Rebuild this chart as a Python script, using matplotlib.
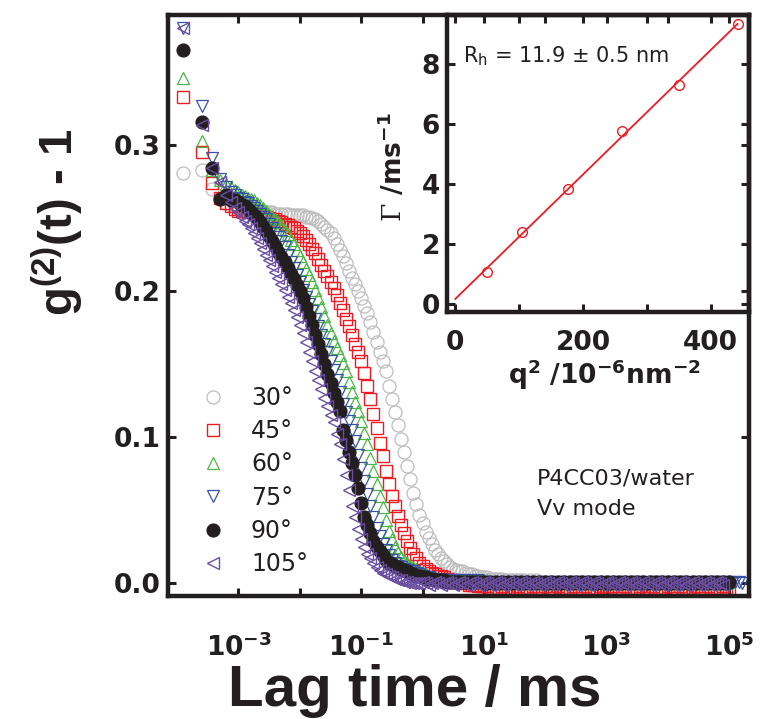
import matplotlib
matplotlib.use("Agg")
import matplotlib.pyplot as plt
import numpy as np

W, H = 761, 719
DPI = 100

INK = "#231f20"
GREY = "#bdbdbd"
RED = "#ed1c24"
GREEN = "#4cb748"
BLUE = "#3953a4"
PURPLE = "#6a4ea1"

plt.rcParams["font.family"] = "DejaVu Sans"
plt.rcParams["mathtext.fontset"] = "dejavuserif"
plt.rcParams["mathtext.default"] = "regular"

# big axis titles use a narrower face than the tick labels
BIG_FONT = ["Liberation Sans", "DejaVu Sans"]

# --- correlator lag times (ms) ---
LAG_MS = np.array([
    1.25e-4, 2.50e-4, 3.75e-4, 5.00e-4, 6.25e-4, 7.50e-4, 8.75e-4,
    1.000e-3, 1.122e-3, 1.259e-3, 1.413e-3, 1.585e-3, 1.778e-3, 1.995e-3, 2.239e-3, 2.512e-3, 2.818e-3,
    3.162e-3, 3.548e-3, 3.981e-3, 4.467e-3, 5.012e-3, 5.623e-3, 6.310e-3, 7.079e-3, 7.943e-3, 8.913e-3,
    1.000e-2, 1.122e-2, 1.259e-2, 1.413e-2, 1.585e-2, 1.778e-2, 1.995e-2, 2.239e-2, 2.512e-2, 2.818e-2,
    3.162e-2, 3.548e-2, 3.981e-2, 4.467e-2, 5.012e-2, 5.623e-2, 6.310e-2, 7.079e-2, 7.943e-2, 8.913e-2,
    1.000e-1, 1.122e-1, 1.259e-1, 1.413e-1, 1.585e-1, 1.778e-1, 1.995e-1, 2.239e-1, 2.512e-1, 2.818e-1,
    3.162e-1, 3.548e-1, 3.981e-1, 4.467e-1, 5.012e-1, 5.623e-1, 6.310e-1, 7.079e-1, 7.943e-1, 8.913e-1,
    1.000e0, 1.122e0, 1.259e0, 1.413e0, 1.585e0, 1.778e0, 1.995e0, 2.239e0, 2.512e0, 2.818e0,
    3.162e0, 3.548e0, 3.981e0, 4.467e0, 5.012e0, 5.623e0, 6.310e0, 7.079e0, 7.943e0, 8.913e0,
    1.000e1, 1.122e1, 1.259e1, 1.413e1, 1.585e1, 1.778e1, 1.995e1, 2.239e1, 2.512e1, 2.818e1,
    3.162e1, 3.548e1, 3.981e1, 4.467e1, 5.012e1, 5.623e1, 6.310e1, 7.079e1, 7.943e1, 8.913e1,
    1.000e2, 1.122e2, 1.259e2, 1.413e2, 1.585e2, 1.778e2, 1.995e2, 2.239e2, 2.512e2, 2.818e2,
    3.162e2, 3.548e2, 3.981e2, 4.467e2, 5.012e2, 5.623e2, 6.310e2, 7.079e2, 7.943e2, 8.913e2,
    1.000e3, 1.122e3, 1.259e3, 1.413e3, 1.585e3, 1.778e3, 1.995e3, 2.239e3, 2.512e3, 2.818e3,
    3.162e3, 3.548e3, 3.981e3, 4.467e3, 5.012e3, 5.623e3, 6.310e3, 7.079e3, 7.943e3, 8.913e3,
    1.000e4, 1.122e4, 1.259e4, 1.413e4, 1.585e4, 1.778e4, 1.995e4, 2.239e4, 2.512e4, 2.818e4,
    3.162e4, 3.548e4, 3.981e4, 4.467e4, 5.012e4, 5.623e4, 6.310e4, 7.079e4, 7.943e4, 8.913e4,
    1.000e5, 1.122e5, 1.259e5, 1.413e5, 1.585e5,
])

# --- g2(t) - 1 for each scattering angle ---
G2_30 = [
    0.281, 0.283, 0.270, 0.263, 0.260, 0.259, 0.258,
    0.257, 0.257, 0.256, 0.256, 0.256, 0.255, 0.255, 0.255, 0.254, 0.254,
    0.254, 0.254, 0.253, 0.253, 0.253, 0.253, 0.253, 0.252, 0.252, 0.252,
    0.252, 0.252, 0.251, 0.251, 0.250, 0.249, 0.248, 0.246, 0.244, 0.242,
    0.240, 0.236, 0.232, 0.228, 0.224, 0.219, 0.214, 0.209, 0.205, 0.200,
    0.195, 0.190, 0.185, 0.179, 0.172, 0.165, 0.158, 0.152, 0.145, 0.135,
    0.126, 0.117, 0.108, 0.099, 0.090, 0.080, 0.071, 0.062, 0.054, 0.047,
    0.041, 0.035, 0.031, 0.027, 0.023, 0.020, 0.017, 0.015, 0.013, 0.011,
    0.010, 0.009, 0.008, 0.008, 0.007, 0.006, 0.006, 0.005, 0.005, 0.004,
    0.004, 0.004, 0.003, 0.003, 0.003, 0.003, 0.003, 0.002, 0.002, 0.002,
    0.002, 0.002, 0.002, 0.002, 0.001, 0.002, 0.001, 0.002, 0.001, 0.001,
    0.001, 0.000, 0.001, 0.001, 0.000, 0.001, 0.001, 0.000, 0.001, 0.001,
    0.000, 0.001, 0.001, 0.000, 0.001, 0.001, 0.000, 0.001, 0.001, 0.000,
    0.001, 0.000, 0.001, 0.001, 0.000, 0.001, 0.001, 0.000, 0.001, 0.001,
    0.000, 0.001, 0.001, 0.000, 0.001, 0.001, 0.000, 0.001, 0.001, 0.000,
    0.001, 0.000, 0.001, 0.001, 0.000, 0.001, 0.001, 0.000, 0.001, 0.001,
    0.000, 0.001, 0.001, 0.000, 0.001, 0.001, 0.000, 0.001, 0.001, 0.000,
    0.001,
]
G2_45 = [
    0.333, 0.295, 0.274, 0.264, 0.260, 0.258, 0.256,
    0.255, 0.255, 0.255, 0.254, 0.254, 0.253, 0.253, 0.252, 0.252, 0.251,
    0.250, 0.249, 0.249, 0.248, 0.247, 0.246, 0.245, 0.244, 0.243, 0.241,
    0.240, 0.238, 0.235, 0.232, 0.229, 0.226, 0.222, 0.218, 0.214, 0.210,
    0.206, 0.202, 0.197, 0.192, 0.187, 0.181, 0.176, 0.170, 0.164, 0.158,
    0.152, 0.144, 0.135, 0.126, 0.116, 0.106, 0.096, 0.087, 0.077, 0.068,
    0.060, 0.053, 0.046, 0.040, 0.034, 0.029, 0.024, 0.020, 0.017, 0.014,
    0.012, 0.010, 0.008, 0.007, 0.006, 0.005, 0.005, 0.004, 0.003, 0.002,
    0.002, 0.001, 0.001, 0.000, 0.000, -0.001, -0.001, -0.001, -0.002, -0.002,
    -0.002, -0.002, -0.003, -0.003, -0.003, -0.003, -0.002, -0.003, -0.003, -0.003,
    -0.003, -0.002, -0.003, -0.003, -0.003, -0.003, -0.002, -0.003, -0.003, -0.003,
    -0.002, -0.003, -0.003, -0.003, -0.002, -0.003, -0.003, -0.003, -0.003, -0.002,
    -0.003, -0.003, -0.003, -0.002, -0.003, -0.003, -0.003, -0.003, -0.002, -0.003,
    -0.003, -0.003, -0.002, -0.003, -0.003, -0.003, -0.002, -0.003, -0.003, -0.003,
    -0.003, -0.002, -0.003, -0.003, -0.003, -0.002, -0.003, -0.003, -0.003, -0.003,
    -0.002, -0.003, -0.003, -0.003, -0.002, -0.003, -0.003, -0.003, -0.003, -0.002,
    -0.003, -0.003, -0.003, -0.002, -0.003, -0.003, -0.003, -0.003, -0.002, -0.003,
    -0.003,
]
G2_60 = [
    0.346, 0.303, 0.283, 0.276, 0.273, 0.271, 0.269,
    0.268, 0.266, 0.265, 0.264, 0.263, 0.262, 0.260, 0.259, 0.257, 0.255,
    0.253, 0.251, 0.249, 0.247, 0.245, 0.242, 0.239, 0.235, 0.232, 0.228,
    0.224, 0.220, 0.215, 0.211, 0.206, 0.201, 0.195, 0.189, 0.183, 0.177,
    0.171, 0.166, 0.161, 0.156, 0.151, 0.145, 0.138, 0.131, 0.124, 0.118,
    0.111, 0.103, 0.095, 0.086, 0.077, 0.068, 0.060, 0.052, 0.043, 0.036,
    0.030, 0.025, 0.021, 0.018, 0.016, 0.014, 0.012, 0.011, 0.010, 0.008,
    0.007, 0.006, 0.005, 0.004, 0.004, 0.003, 0.003, 0.002, 0.002, 0.002,
    0.002, 0.002, 0.002, 0.002, 0.001, 0.002, 0.001, 0.002, 0.001, 0.002,
    0.001, 0.002, 0.001, 0.001, 0.001, 0.000, 0.001, 0.000, 0.001, 0.000,
    0.001, 0.000, 0.001, 0.000, 0.001, 0.000, 0.001, 0.000, 0.001, 0.000,
    0.001, 0.000, 0.001, 0.000, 0.001, 0.000, 0.001, 0.000, 0.001, 0.000,
    0.001, 0.000, 0.001, 0.000, 0.001, 0.000, 0.001, 0.000, 0.001, 0.000,
    0.001, 0.000, 0.001, 0.000, 0.001, 0.000, 0.001, 0.000, 0.001, 0.000,
    0.001, 0.000, 0.001, 0.000, 0.001, 0.000, 0.001, 0.000, 0.001, 0.000,
    0.001, 0.000, 0.001, 0.000, 0.001, 0.000, 0.001, 0.000, 0.001, 0.000,
    0.001, 0.000, 0.001, 0.000, 0.001, 0.000, 0.001, 0.000, 0.001, 0.000,
    0.001,
]
G2_75 = [
    0.380, 0.327, 0.291, 0.277, 0.271, 0.268, 0.266,
    0.264, 0.263, 0.261, 0.260, 0.258, 0.257, 0.255, 0.253, 0.251, 0.249,
    0.246, 0.243, 0.240, 0.237, 0.234, 0.230, 0.225, 0.220, 0.216, 0.211,
    0.206, 0.201, 0.196, 0.191, 0.186, 0.181, 0.176, 0.170, 0.164, 0.158,
    0.152, 0.146, 0.139, 0.131, 0.123, 0.117, 0.111, 0.105, 0.097, 0.088,
    0.079, 0.070, 0.061, 0.053, 0.045, 0.038, 0.032, 0.027, 0.023, 0.019,
    0.016, 0.014, 0.012, 0.011, 0.010, 0.009, 0.008, 0.008, 0.007, 0.006,
    0.005, 0.004, 0.004, 0.003, 0.003, 0.002, 0.002, 0.002, 0.002, 0.002,
    0.002, 0.001, 0.002, 0.001, 0.002, 0.001, 0.002, 0.001, 0.002, 0.001,
    0.001, 0.001, 0.000, 0.001, 0.000, 0.001, 0.000, 0.001, 0.000, 0.001,
    0.000, 0.001, 0.000, 0.001, 0.000, 0.001, 0.000, 0.001, 0.000, 0.001,
    0.000, 0.001, 0.000, 0.001, 0.000, 0.001, 0.000, 0.001, 0.000, 0.001,
    0.000, 0.001, 0.000, 0.001, 0.000, 0.001, 0.000, 0.001, 0.000, 0.001,
    0.000, 0.001, 0.000, 0.001, 0.000, 0.001, 0.000, 0.001, 0.000, 0.001,
    0.000, 0.001, 0.000, 0.001, 0.000, 0.001, 0.000, 0.001, 0.000, 0.001,
    0.000, 0.001, 0.000, 0.001, 0.000, 0.001, 0.000, 0.001, 0.000, 0.001,
    0.000, 0.001, 0.000, 0.001, 0.000, 0.001, 0.000, 0.001, 0.000, 0.001,
    0.001, 0.000, 0.001, 0.001, 0.000,
]
G2_90 = [
    0.365, 0.316, 0.284, 0.263, 0.266, 0.262, 0.262,
    0.261, 0.259, 0.258, 0.256, 0.254, 0.252, 0.250, 0.247, 0.244, 0.241,
    0.238, 0.234, 0.231, 0.227, 0.223, 0.220, 0.216, 0.212, 0.208, 0.204,
    0.200, 0.195, 0.189, 0.183, 0.177, 0.170, 0.164, 0.157, 0.150, 0.143,
    0.137, 0.130, 0.124, 0.118, 0.105, 0.098, 0.090, 0.082, 0.074, 0.065,
    0.055, 0.045, 0.040, 0.034, 0.029, 0.025, 0.022, 0.019, 0.016, 0.014,
    0.013, 0.012, 0.011, 0.010, 0.009, 0.008, 0.007, 0.006, 0.005, 0.005,
    0.004, 0.004, 0.003, 0.003, 0.002, 0.002, 0.002, 0.002, 0.001, 0.001,
    0.001, 0.001, 0.001, 0.001, 0.001, 0.001, 0.001, 0.001, 0.001, 0.001,
    0.001, 0.000, 0.001, 0.000, 0.001, 0.000, 0.001, 0.000, 0.001, 0.000,
    0.001, 0.000, 0.001, 0.000, 0.001, 0.000, 0.001, 0.000, 0.001, 0.000,
    0.001, 0.000, 0.001, 0.000, 0.001, 0.000, 0.001, 0.000, 0.001, 0.000,
    0.001, 0.000, 0.001, 0.000, 0.001, 0.000, 0.001, 0.000, 0.001, 0.000,
    0.001, 0.000, 0.001, 0.000, 0.001, 0.000, 0.001, 0.000, 0.001, 0.000,
    0.001, 0.000, 0.001, 0.000, 0.001, 0.000, 0.001, 0.000, 0.001, 0.000,
    0.001, 0.000, 0.001, 0.000, 0.001, 0.000, 0.001, 0.000, 0.001, 0.000,
    0.001, 0.000, 0.001, 0.000, 0.001, 0.000, 0.001, 0.000, 0.001, 0.000,
    0.001,
]
G2_105 = [
    0.380, 0.314, 0.284, 0.275, 0.266, 0.261, 0.257,
    0.254, 0.251, 0.248, 0.246, 0.243, 0.240, 0.236, 0.233, 0.229, 0.225,
    0.221, 0.217, 0.213, 0.209, 0.205, 0.201, 0.196, 0.192, 0.187, 0.182,
    0.177, 0.171, 0.165, 0.158, 0.152, 0.145, 0.139, 0.133, 0.127, 0.121,
    0.115, 0.110, 0.102, 0.095, 0.085, 0.074, 0.064, 0.053, 0.045, 0.037,
    0.030, 0.025, 0.020, 0.017, 0.014, 0.011, 0.009, 0.007, 0.006, 0.005,
    0.004, 0.003, 0.002, 0.002, 0.001, 0.001, 0.000, 0.000, 0.000, 0.000,
    0.001, 0.000, -0.001, 0.000, 0.001, 0.000, -0.001, 0.000, 0.001, 0.000,
    -0.001, 0.000, 0.001, 0.000, -0.001, 0.000, 0.001, 0.000, -0.001, 0.000,
    0.001, 0.000, -0.001, 0.000, 0.001, 0.000, -0.001, 0.000, 0.001, 0.000,
    -0.001, 0.000, 0.001, 0.000, -0.001, 0.000, 0.001, 0.000, -0.001, 0.000,
    0.001, 0.000, -0.001, 0.000, 0.001, 0.000, -0.001, 0.000, 0.001, 0.000,
    -0.001, 0.000, 0.001, 0.000, -0.001, 0.000, 0.001, 0.000, -0.001, 0.000,
    0.001, 0.000, -0.001, 0.000, 0.001, 0.000, -0.001, 0.000, 0.001, 0.000,
    -0.001, 0.000, 0.001, 0.000, -0.001, 0.000, 0.001, 0.000, -0.001, 0.000,
    0.001, 0.000, -0.001, 0.000, 0.001, 0.000, -0.001, 0.000, 0.001, 0.000,
    -0.001, 0.000, 0.001, 0.000, -0.001, 0.000, 0.001, 0.000, -0.001,
]
ANGLE_LABELS = ["30°", "45°", "60°", "75°", "90°", "105°"]

# --- decay rate vs q^2 (inset) ---
Q2 = [49, 105, 176, 261, 351, 442]          # 10^-6 nm^-2
GAMMA = [1.07, 2.40, 3.83, 5.77, 7.30, 9.33]  # ms^-1

STYLES = [
    dict(marker="o", ms=9.4, mfc="none", mec=GREY, mew=0.9),
    dict(marker="s", ms=8.6, mfc="none", mec=RED, mew=1.0),
    dict(marker="^", ms=9.0, mfc="none", mec=GREEN, mew=0.9),
    dict(marker="v", ms=9.0, mfc="none", mec=BLUE, mew=0.9),
    dict(marker="o", ms=9.4, mfc=INK, mec=INK, mew=0.8),
    dict(marker="<", ms=9.0, mfc="none", mec=PURPLE, mew=1.0),
]


def px(x, y):
    """Pixel position measured from the top-left corner -> figure fraction."""
    return x / W, 1 - y / H


def style_frame(ax):
    for spine in ax.spines.values():
        spine.set_linewidth(3.2)
        spine.set_color(INK)
    ax.tick_params(which="both", direction="in", top=True, right=True,
                   length=6, width=2.2, color=INK, labelcolor=INK)
    ax.tick_params(which="minor", length=0)


fig = plt.figure(figsize=(W / DPI, H / DPI), dpi=DPI)

# ---------------- main panel ----------------
ax = fig.add_axes([168 / W, 1 - 596 / H, (749 - 168) / W, (596 - 15) / H])
handles = []
for values, style in zip([G2_30, G2_45, G2_60, G2_75, G2_90, G2_105], STYLES):
    n = len(values)
    line, = ax.plot(LAG_MS[:n], values, linestyle="none", **style)
    handles.append(line)

ax.set_xscale("log")
ax.set_xlim(7.1e-5, 2.09e5)
ax.set_ylim(-0.0088, 0.389)
style_frame(ax)

decades = [1e-3, 1e-2, 1e-1, 1e0, 1e1, 1e2, 1e3, 1e4, 1e5]
xlabels = [r"$\mathdefault{10^{%d}}$" % int(np.log10(d)) if i % 2 == 0 else ""
           for i, d in enumerate(decades)]
ax.set_xticks(decades, xlabels, fontweight="bold", fontsize=19)
ax.xaxis.set_minor_locator(matplotlib.ticker.NullLocator())
ax.set_yticks([0.0, 0.1, 0.2, 0.3], ["0.0", "0.1", "0.2", "0.3"],
              fontweight="bold", fontsize=19)
ax.tick_params(axis="x", pad=27)
ax.tick_params(axis="y", pad=5)

fig.text(*px(415, 706), "Lag time / ms", family=BIG_FONT,
         fontweight="bold", fontsize=42, ha="center", va="baseline",
         color=INK)
fig.text(*px(57, 222), "g$^{(2)}$(t) - 1", family=BIG_FONT,
         fontweight="bold", fontsize=34, rotation=90,
         ha="center", va="center", color=INK)

ax.legend(handles, ANGLE_LABELS, loc="upper left", bbox_to_anchor=px(199, 386),
          bbox_transform=fig.transFigure, frameon=False, fontsize=17,
          handlelength=1.2, handletextpad=1.0, labelspacing=0.39,
          borderpad=0, borderaxespad=0, numpoints=1, labelcolor=INK)

fig.text(*px(537, 485), "P4CC03/water", fontsize=16, color=INK, va="baseline")
fig.text(*px(537, 515), "Vv mode", fontsize=16, color=INK, va="baseline")

# ---------------- inset: Gamma vs q^2 ----------------
ax_in = fig.add_axes([447 / W, 1 - 312 / H, (749 - 447) / W, (312 - 15) / H],
                     facecolor="none")
slope, intercept = np.polyfit(Q2, GAMMA, 1)
q_fit = np.array([0.0, max(Q2)])
ax_in.plot(q_fit, intercept + slope * q_fit, color=RED, lw=1.3)
ax_in.plot(Q2, GAMMA, linestyle="none", marker="o", ms=7, mfc="none",
           mec=RED, mew=1.0)

ax_in.set_xlim(-13, 460)
ax_in.set_ylim(-0.27, 9.63)
style_frame(ax_in)
ax_in.set_xticks([0, 100, 200, 300, 400], ["0", "", "200", "", "400"],
                 fontweight="bold", fontsize=19)
ax_in.set_yticks([0, 2, 4, 6, 8], ["0", "2", "4", "6", "8"],
                 fontweight="bold", fontsize=19)
ax_in.tick_params(axis="x", pad=13)
ax_in.tick_params(axis="y", pad=5)

fig.text(*px(604, 375), "q$^{2}$ /10$^{-6}$nm$^{-2}$", fontweight="bold",
         fontsize=19, ha="center", va="center", color=INK)
fig.text(*px(393, 167), r"$\mathrm{\Gamma}$ /ms$^{-1}$", fontweight="bold",
         fontsize=19, rotation=90, ha="center", va="center", color=INK)
fig.text(*px(463, 62), "R$_{h}$ = 11.9 ± 0.5 nm", fontsize=15, color=INK,
         va="baseline")

fig.savefig("out.png", dpi=DPI)
